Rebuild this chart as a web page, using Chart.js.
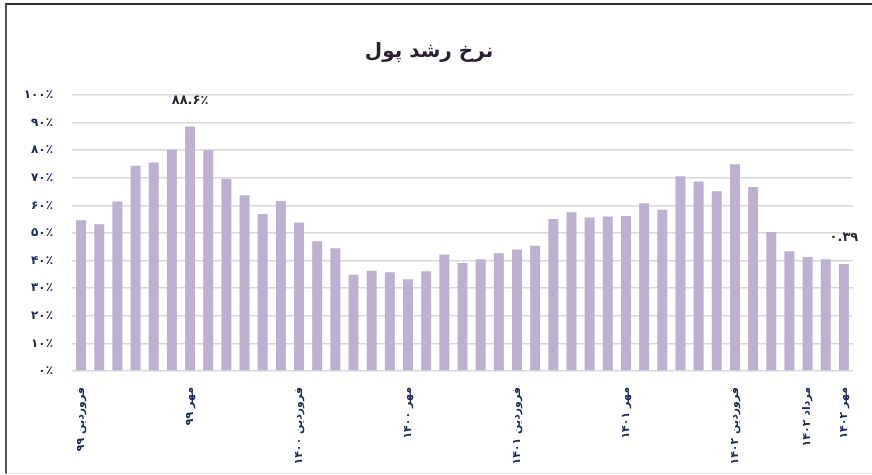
<!DOCTYPE html>
<html>
<head>
<meta charset="utf-8">
<script src="https://cdn.jsdelivr.net/npm/chart.js@4"></script>
<style>
  body { margin: 0; background: #fff; }
  #wrap { position: relative; width: 872px; height: 475px; }
  #frame { position: absolute; left: 5px; top: 3px; right: 0; bottom: 1px;
           border-top: 2px solid #2a2a2a; border-left: 2px solid #555;
           border-bottom: 1px solid #e6e6e6; pointer-events: none; }
  canvas { position: absolute; left: 0; top: 0; }
</style>
</head>
<body>
<div id="wrap">
  <div id="frame"></div>
  <canvas id="stage" width="872" height="475"></canvas>
</div>
<script>
// ماه‌ها از فروردین ۹۹ تا مهر ۱۴۰۲
var categories = [
  'فروردین ۹۹','اردیبهشت ۹۹','خرداد ۹۹','تیر ۹۹','مرداد ۹۹','شهریور ۹۹',
  'مهر ۹۹','آبان ۹۹','آذر ۹۹','دی ۹۹','بهمن ۹۹','اسفند ۹۹',
  'فروردین ۱۴۰۰','اردیبهشت ۱۴۰۰','خرداد ۱۴۰۰','تیر ۱۴۰۰','مرداد ۱۴۰۰','شهریور ۱۴۰۰',
  'مهر ۱۴۰۰','آبان ۱۴۰۰','آذر ۱۴۰۰','دی ۱۴۰۰','بهمن ۱۴۰۰','اسفند ۱۴۰۰',
  'فروردین ۱۴۰۱','اردیبهشت ۱۴۰۱','خرداد ۱۴۰۱','تیر ۱۴۰۱','مرداد ۱۴۰۱','شهریور ۱۴۰۱',
  'مهر ۱۴۰۱','آبان ۱۴۰۱','آذر ۱۴۰۱','دی ۱۴۰۱','بهمن ۱۴۰۱','اسفند ۱۴۰۱',
  'فروردین ۱۴۰۲','اردیبهشت ۱۴۰۲','خرداد ۱۴۰۲','تیر ۱۴۰۲','مرداد ۱۴۰۲','شهریور ۱۴۰۲',
  'مهر ۱۴۰۲'
];
// نرخ رشد پول (درصد)
var growth = [
  54.6, 53.2, 61.4, 74.4, 75.5, 80.2, 88.6, 80.0, 69.7, 63.7, 56.9, 61.6,
  53.8, 47.0, 44.5, 34.9, 36.3, 35.8, 33.2, 36.1, 42.2, 39.1, 40.5, 42.7,
  44.0, 45.4, 55.1, 57.5, 55.6, 56.0, 56.2, 60.8, 58.4, 70.6, 68.7, 65.1,
  74.9, 66.7, 50.4, 43.4, 41.3, 40.5, 38.8
];
var shownLabels = [0, 6, 12, 18, 24, 30, 36, 40, 42]; // برچسب‌های نمایش داده شده روی محور x
var yTicks = ['۰٪','۱۰٪','۲۰٪','۳۰٪','۴۰٪','۵۰٪','۶۰٪','۷۰٪','۸۰٪','۹۰٪','۱۰۰٪'];
var barLabelIdx = [6, 42];
var barLabelText = ['۸۸.۶٪', '۰.۳۹'];

var navy = '#1c2b62';
var persianFont = "'DejaVu Sans', sans-serif";

// برچسب مقدار بالای ستون‌های خاص
var barLabels = {
  id: 'barLabels',
  afterDatasetsDraw: function(chart) {
    var ctx = chart.ctx;
    var meta = chart.getDatasetMeta(0);
    ctx.save();
    ctx.font = 'bold 13px ' + persianFont;
    ctx.fillStyle = '#2a2838';
    ctx.textAlign = 'center';
    ctx.textBaseline = 'middle';
    barLabelIdx.forEach(function(i, k) {
      var bar = meta.data[i];
      ctx.fillText(barLabelText[k], bar.x, bar.y - 26);
    });
    ctx.restore();
  }
};

new Chart(document.getElementById('stage').getContext('2d'), {
  type: 'bar',
  data: {
    labels: categories,
    datasets: [{
      data: growth,
      backgroundColor: '#bdb0d0',
      barPercentage: 0.55,
      categoryPercentage: 1.0
    }]
  },
  options: {
    responsive: false,
    animation: false,
    layout: { padding: { left: 5, right: 19, top: 0, bottom: 0 } },
    plugins: {
      legend: { display: false },
      tooltip: { enabled: false },
      title: {
        display: true,
        text: 'نرخ رشد پول',
        color: '#2b1f33',
        font: { family: persianFont, size: 20, weight: 'bold' },
        padding: { top: 40, bottom: 31 }
      }
    },
    scales: {
      x: {
        grid: { display: false },
        border: { display: false },
        ticks: {
          autoSkip: false,
          minRotation: 90,
          maxRotation: 90,
          padding: 8,
          color: navy,
          font: { family: persianFont, size: 11, weight: 'bold' },
          callback: function(v, i) { return shownLabels.indexOf(i) >= 0 ? categories[i] : ''; }
        },
        afterFit: function(s) { s.height = 104; }
      },
      y: {
        min: 0,
        max: 100,
        grid: { color: '#d9d9d9', lineWidth: 1.5, drawTicks: false },
        border: { display: false },
        ticks: {
          stepSize: 10,
          padding: 19,
          color: navy,
          font: { family: persianFont, size: 12, weight: 'bold' },
          callback: function(v, i) { return yTicks[i]; }
        },
        afterFit: function(s) { s.width = 67; }
      }
    }
  },
  plugins: [barLabels]
});
</script>
</body>
</html>
